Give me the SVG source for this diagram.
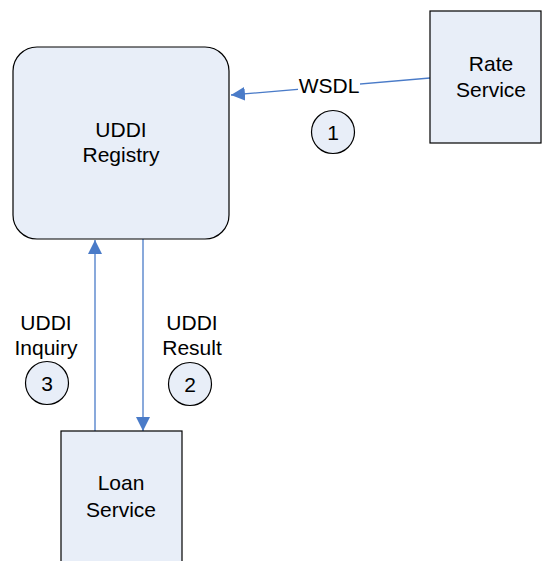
<svg xmlns="http://www.w3.org/2000/svg" width="542" height="561" viewBox="0 0 542 561">
<style>
.node{fill:#E8EEF8;stroke:#000;stroke-width:1.2}
.t{font-family:"Liberation Sans",Arial,sans-serif;font-size:21px;fill:#000;text-anchor:middle}
.c{fill:none;stroke:#4A7BC8;stroke-width:1.3}
</style>
<defs>
<marker id="ah" viewBox="0 0 10 10" refX="10" refY="5" markerWidth="14" markerHeight="14" markerUnits="userSpaceOnUse" orient="auto">
<path d="M0,0 L10,5 L0,10 z" fill="#4A7BC8"/>
</marker>
</defs>
<rect width="542" height="561" fill="#fff"/>
<g id="connectors">
<line class="c" x1="430" y1="78" x2="231" y2="95" marker-end="url(#ah)"/>
<line class="c" x1="95" y1="431" x2="95" y2="240" marker-end="url(#ah)"/>
<line class="c" x1="143" y1="239" x2="143" y2="431" marker-end="url(#ah)"/>
<rect x="298" y="70" width="62" height="24" fill="#fff"/>
<text class="t" x="329" y="93">WSDL</text>
<text class="t" x="46" y="330">UDDI</text>
<text class="t" x="46" y="355">Inquiry</text>
<text class="t" x="192" y="330">UDDI</text>
<text class="t" x="192" y="355">Result</text>
</g>
<g id="uddi-registry">
<rect class="node" x="13" y="47" width="216" height="192" rx="24" ry="24"/>
<text class="t" x="121" y="137">UDDI</text>
<text class="t" x="121" y="162">Registry</text>
</g>
<g id="rate-service">
<rect class="node" x="430" y="11" width="111" height="132"/>
<text class="t" x="491" y="71">Rate</text>
<text class="t" x="491" y="97">Service</text>
</g>
<g id="loan-service">
<rect class="node" x="61" y="431" width="121" height="140"/>
<text class="t" x="121" y="490">Loan</text>
<text class="t" x="121" y="517">Service</text>
</g>
<g id="step-1">
<circle class="node" cx="333" cy="132" r="21.5"/>
<text class="t" x="333" y="140">1</text>
</g>
<g id="step-2">
<circle class="node" cx="190" cy="384" r="21.5"/>
<text class="t" x="190" y="392">2</text>
</g>
<g id="step-3">
<circle class="node" cx="47" cy="383" r="21.5"/>
<text class="t" x="47" y="391">3</text>
</g>
</svg>
